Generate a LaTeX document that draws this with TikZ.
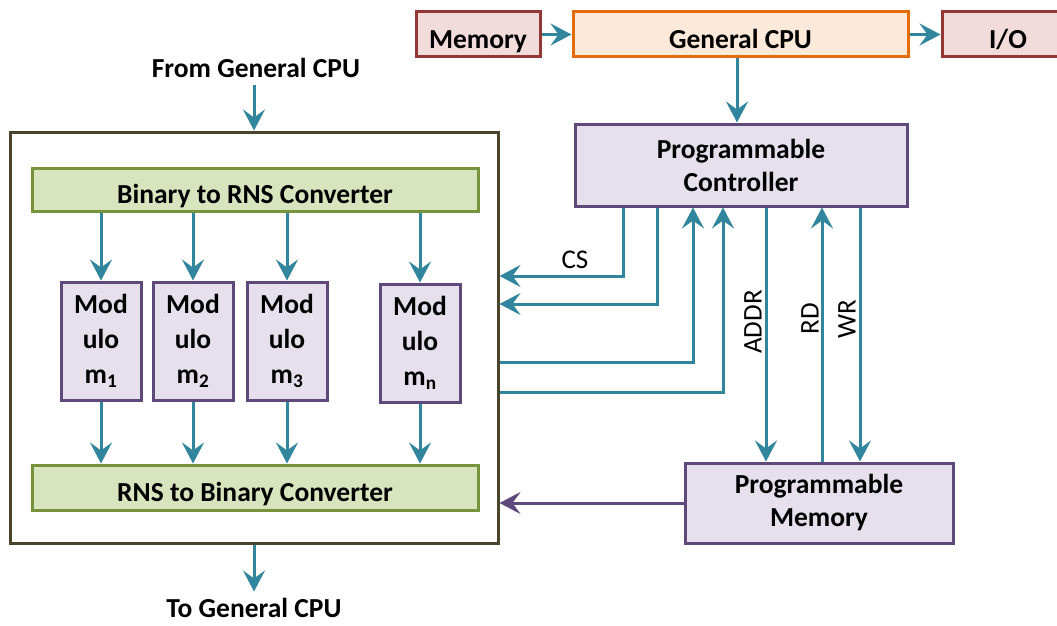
\documentclass[tikz,border=0pt]{standalone}
\usepackage{fontspec}
\setmainfont{Carlito}
\usetikzlibrary{arrows.meta}
\definecolor{teal}{HTML}{31859C}
\definecolor{purpB}{HTML}{5F497A}
\definecolor{purpF}{HTML}{E5E0EC}
\definecolor{grnB}{HTML}{77933C}
\definecolor{grnF}{HTML}{D7E4BD}
\definecolor{orgB}{HTML}{E46C0A}
\definecolor{orgF}{HTML}{FDE9D9}
\definecolor{redB}{HTML}{953735}
\definecolor{redF}{HTML}{F2DCDB}
\definecolor{oliveB}{HTML}{4A452A}
\tikzset{
  box/.style={draw, line width=3pt, align=center, inner sep=0pt, font=\bfseries\fontsize{27.5}{33}\selectfont},
  oneline/.style={text height=28pt, text depth=0pt},
  redbox/.style={box, oneline, draw=redB, fill=redF},
  orgbox/.style={box, oneline, draw=orgB, fill=orgF},
  purbox/.style={box, draw=purpB, fill=purpF},
  grnbox/.style={box, oneline, draw=grnB, fill=grnF},
  modbox/.style={purbox, minimum width=80pt, minimum height=118pt, font=\bfseries\fontsize{27.5}{35}\selectfont},
  arr/.style={draw=teal, line width=3pt, -{Stealth[length=21pt,width=22pt,inset=8pt]}},
  parr/.style={draw=purpB, line width=3pt, -{Stealth[length=21pt,width=22pt,inset=8pt]}},
  lbl/.style={font=\fontsize{27}{30}\selectfont, inner sep=0pt},
  blbl/.style={font=\bfseries\fontsize{27.5}{30}\selectfont, inner sep=0pt}
}
\begin{document}
\begin{tikzpicture}[x=1pt,y=-1pt]
\useasboundingbox (0,0) rectangle (1057,626);
% top row
\node[redbox, minimum width=124pt, minimum height=45pt] (mem) at (478,34.5) {Memory};
\node[orgbox, minimum width=335pt, minimum height=45pt] (cpu) at (740.5,34.5) {General CPU};
\node[redbox, minimum width=132pt, minimum height=45pt] (io) at (1008,34.5) {I/O};
\draw[arr] (mem.east) -- (cpu.west);
\draw[arr] (cpu.east) -- (io.west);
% controller
\node[purbox, minimum width=332pt, minimum height=82pt] (ctrl) at (741,165) {Programmable\\Controller};
\draw[arr] (cpu.south -| 737,0) -- (ctrl.north -| 737,0);
% programmable memory
\node[purbox, minimum width=268pt, minimum height=80pt] (pmem) at (819,503) {Programmable\\Memory};
% big box
\node[draw=oliveB, line width=3pt, minimum width=488pt, minimum height=411pt, inner sep=0pt] (big) at (254,337.5) {};
\node[grnbox, minimum width=446pt, minimum height=43pt] (b2r) at (255,189.5) {Binary to RNS Converter};
\node[grnbox, minimum width=446pt, minimum height=45pt] (r2b) at (255,487.5) {RNS to Binary Converter};
\node[modbox] (m1) at (101,341) {Mod\\ulo\\m\textsubscript{1}};
\node[modbox] (m2) at (193,341) {Mod\\ulo\\m\textsubscript{2}};
\node[modbox] (m3) at (287,341) {Mod\\ulo\\m\textsubscript{3}};
\node[modbox] (mn) at (420,343) {Mod\\ulo\\m\textsubscript{n}};
\foreach \m in {m1,m2,m3,mn}{
  \draw[arr] (b2r.south -| \m.north) -- (\m.north);
  \draw[arr] (\m.south) -- (r2b.north -| \m.south);
}
% in/out labels
\node[blbl] (from) at (256,68) {From General CPU};
\node[blbl] (to) at (254,608) {To General CPU};
\coordinate (fromend) at (big.north |- 0,85);
\draw[arr] (fromend) -- (big.north);
\draw[arr] (big.south) -- ++(0,47) coordinate (toend);
% controller <-> big box
\draw[arr] (ctrl.south -| 623,0) |- (big.east |- 0,276);
\node[lbl] (cs) at (575,260) {CS};
\draw[arr] (ctrl.south -| 657,0) |- (big.east |- 0,304);
\draw[arr] (big.east |- 0,362) -| (ctrl.south -| 693,0);
\draw[arr] (big.east |- 0,392) -| (ctrl.south -| 723,0);
% controller <-> prog memory
\draw[arr] (ctrl.south -| 766,0) -- (pmem.north -| 766,0);
\draw[arr] (pmem.north -| 822,0) -- (ctrl.south -| 822,0);
\draw[arr] (ctrl.south -| 860,0) -- (pmem.north -| 860,0);
\node[lbl, rotate=90] (addr) at (753,322) {ADDR};
\node[lbl, rotate=90] (rd) at (810,319) {RD};
\node[lbl, rotate=90] (wr) at (847,319) {WR};
\draw[parr] (pmem.west) -- (big.east |- pmem.west);
\end{tikzpicture}
\end{document}
